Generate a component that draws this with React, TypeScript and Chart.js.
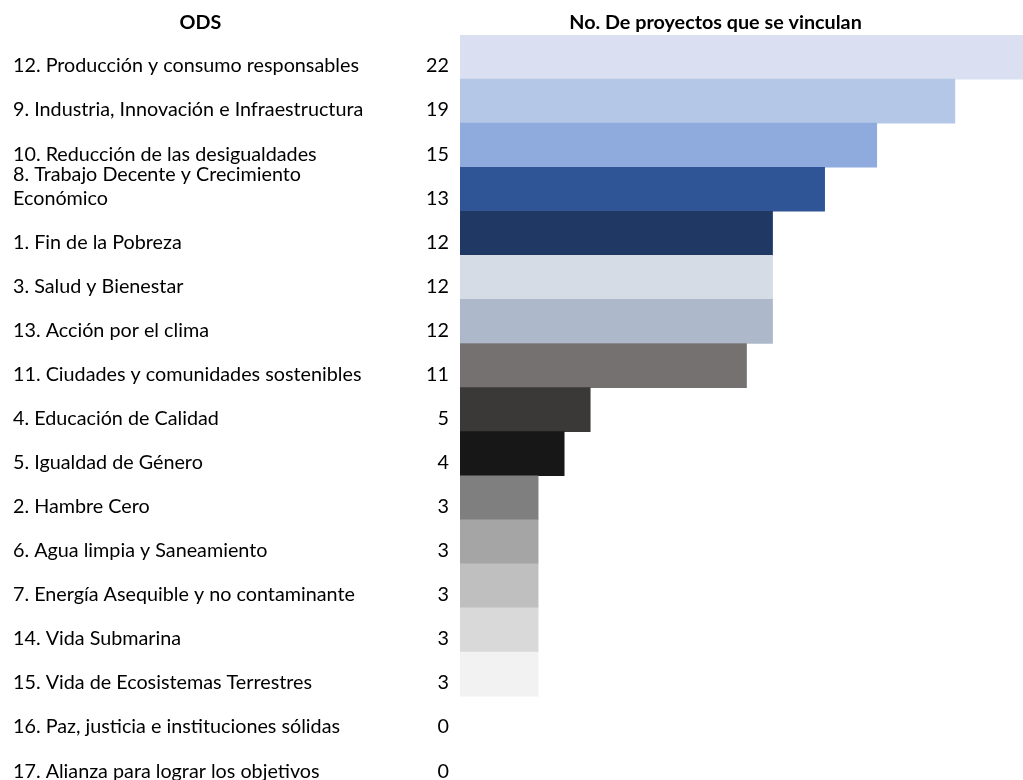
import React, { useEffect, useRef } from "react";
import { Chart, registerables } from "chart.js";

Chart.register(...registerables);

const odsLabels: (string | string[])[] = [
  "12. Producción y consumo responsables",
  "9. Industria, Innovación e Infraestructura",
  "10. Reducción de las desigualdades",
  ["8. Trabajo Decente y Crecimiento", "Económico"],
  "1. Fin de la Pobreza",
  "3. Salud y Bienestar",
  "13. Acción por el clima",
  "11. Ciudades y comunidades sostenibles",
  "4. Educación de Calidad",
  "5. Igualdad de Género",
  "2. Hambre Cero",
  "6. Agua limpia y Saneamiento",
  "7. Energía Asequible y no contaminante",
  "14. Vida Submarina",
  "15. Vida de Ecosistemas Terrestres",
  "16. Paz, justicia e instituciones sólidas",
  "17. Alianza para lograr los objetivos",
];

// numbers written in the table column
const tableCounts = [22, 19, 15, 13, 12, 12, 12, 11, 5, 4, 3, 3, 3, 3, 3, 0, 0];

// lengths of the bars as drawn in the picture
const barLengths = [22, 19, 16, 14, 12, 12, 12, 11, 5, 4, 3, 3, 3, 3, 3, 0, 0];

const barColors = [
  "#DAE0F2",
  "#B4C7E7",
  "#8FAADC",
  "#2F5597",
  "#203864",
  "#D6DCE5",
  "#ADB9CA",
  "#767171",
  "#3B3838",
  "#171717",
  "#7F7F7F",
  "#A5A5A5",
  "#BFBFBF",
  "#D9D9D9",
  "#F2F2F2",
  "#FFFFFF",
  "#FFFFFF",
];

const headerLeft = "ODS";
const headerRight = "No. De proyectos que se vinculan";

const FONT = "Lato, 'Open Sans', sans-serif";

const tablePlugin = {
  id: "tableText",
  afterDraw(chart: any) {
    const ctx = chart.ctx as CanvasRenderingContext2D;
    const y = chart.scales.y;
    ctx.save();
    // fit font size so first label matches reference width
    ctx.font = `18px ${FONT}`;
    const w = ctx.measureText(odsLabels[0] as string).width;
    const size = (18 * 346) / w;
    const lineH = 24;

    ctx.fillStyle = "#000000";
    ctx.textBaseline = "middle";

    // headers
    ctx.font = `bold ${size}px ${FONT}`;
    ctx.textAlign = "center";
    ctx.fillText(headerLeft, 200.5, 22.5);
    ctx.fillText(headerRight, 715.5, 22.5);

    ctx.font = `${size}px ${FONT}`;
    odsLabels.forEach((lab, i) => {
      const cy = y.getPixelForValue(i) + 9;
      const lines = Array.isArray(lab) ? lab : [lab];
      ctx.textAlign = "left";
      lines.forEach((ln, k) => {
        ctx.fillText(ln, 13, cy - (lines.length - 1 - k) * lineH);
      });
      ctx.textAlign = "right";
      ctx.fillText(String(tableCounts[i]), 449, cy);
    });
    ctx.restore();
  },
};

export default function App() {
  const ref = useRef<HTMLCanvasElement | null>(null);
  useEffect(() => {
    if (!ref.current) return;
    const chart = new Chart(ref.current, {
      type: "bar",
      data: {
        labels: odsLabels as any,
        datasets: [
          {
            data: barLengths,
            backgroundColor: barColors,
            borderWidth: 0,
            categoryPercentage: 1,
            barPercentage: 1,
          },
        ],
      },
      options: {
        indexAxis: "y",
        responsive: false,
        animation: false,
        layout: { padding: { left: 460, right: 7, top: 35, bottom: 5.8 } },
        scales: {
          x: { display: false, min: 0, max: 22 },
          y: { display: false },
        },
        plugins: {
          legend: { display: false },
          tooltip: { enabled: false },
        },
      },
      plugins: [tablePlugin],
    });
    return () => chart.destroy();
  }, []);
  return (
    <div
      style={{
        position: "absolute",
        left: 0,
        top: 0,
        width: 1023,
        height: 780,
        overflow: "hidden",
        background: "#ffffff",
      }}
    >
      <canvas
        ref={ref}
        width={1040}
        height={790}
        style={{ display: "block", width: 1040, height: 790 }}
      />
    </div>
  );
}
